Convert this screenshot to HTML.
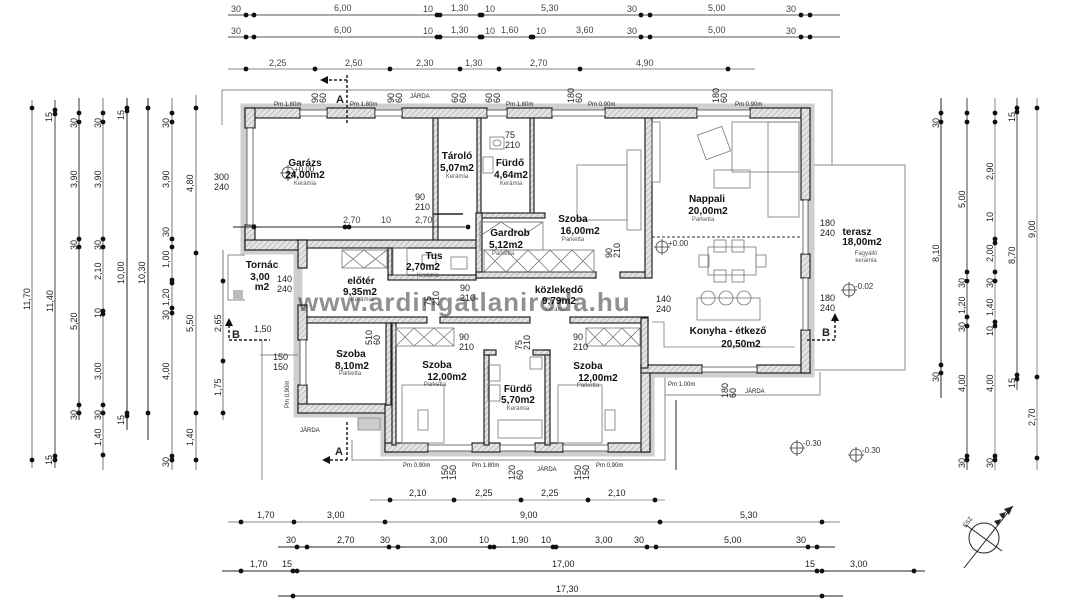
<!DOCTYPE html>
<html><head><meta charset="utf-8"><style>
html,body{margin:0;padding:0;background:#fff}
svg{display:block}
text{font-family:"Liberation Sans",sans-serif;fill:#222}
.d{font-size:9px;fill:#444}
.r{font-size:10px;font-weight:bold;fill:#111}
.s{font-size:6px;fill:#555}
.m{font-size:8px;fill:#333}
</style></head><body>
<svg width="1067" height="600" viewBox="0 0 1067 600" xmlns="http://www.w3.org/2000/svg">
<defs>
<pattern id="h" width="4" height="4" patternUnits="userSpaceOnUse" patternTransform="rotate(45)">
<rect width="4" height="4" fill="#e4e4e4"/><line x1="0" y1="0" x2="0" y2="4" stroke="#888" stroke-width="0.8"/>
</pattern>
</defs>

<!-- TOP DIMENSIONS -->
<g stroke="#555" stroke-width="1">
<line x1="228" y1="15" x2="840" y2="15"/>
<line x1="228" y1="37" x2="840" y2="37"/>
<line x1="228" y1="69" x2="755" y2="69" stroke="#888"/>
</g>
<g fill="#111">
<circle cx="246" cy="15" r="2.4"/><circle cx="254" cy="15" r="2.4"/><circle cx="437" cy="15" r="2.4"/><circle cx="440" cy="15" r="2.4"/><circle cx="480" cy="15" r="2.4"/><circle cx="482" cy="15" r="2.4"/><circle cx="641" cy="15" r="2.4"/><circle cx="650" cy="15" r="2.4"/><circle cx="801" cy="15" r="2.4"/><circle cx="810" cy="15" r="2.4"/>
<circle cx="246" cy="37" r="2.4"/><circle cx="254" cy="37" r="2.4"/><circle cx="437" cy="37" r="2.4"/><circle cx="440" cy="37" r="2.4"/><circle cx="480" cy="37" r="2.4"/><circle cx="482" cy="37" r="2.4"/><circle cx="531" cy="37" r="2.4"/><circle cx="533" cy="37" r="2.4"/><circle cx="641" cy="37" r="2.4"/><circle cx="650" cy="37" r="2.4"/><circle cx="801" cy="37" r="2.4"/><circle cx="810" cy="37" r="2.4"/>
<circle cx="246" cy="69" r="2.4"/><circle cx="315" cy="69" r="2.4"/><circle cx="390" cy="69" r="2.4"/><circle cx="460" cy="69" r="2.4"/><circle cx="499" cy="69" r="2.4"/><circle cx="580" cy="69" r="2.4"/><circle cx="728" cy="69" r="2.4"/>
</g>
<g class="d">
<text x="231" y="12" class="d">30</text><text x="334" y="11" class="d">6,00</text><text x="423" y="12" class="d">10</text><text x="451" y="11" class="d">1,30</text><text x="485" y="12" class="d">10</text><text x="541" y="11" class="d">5,30</text><text x="627" y="12" class="d">30</text><text x="708" y="11" class="d">5,00</text><text x="786" y="12" class="d">30</text>
<text x="231" y="34" class="d">30</text><text x="334" y="33" class="d">6,00</text><text x="423" y="34" class="d">10</text><text x="451" y="33" class="d">1,30</text><text x="485" y="34" class="d">10</text><text x="501" y="33" class="d">1,60</text><text x="536" y="34" class="d">10</text><text x="576" y="33" class="d">3,60</text><text x="627" y="34" class="d">30</text><text x="708" y="33" class="d">5,00</text><text x="786" y="34" class="d">30</text>
<text x="269" y="66" class="d">2,25</text><text x="345" y="66" class="d">2,50</text><text x="416" y="66" class="d">2,30</text><text x="465" y="66" class="d">1,30</text><text x="530" y="66" class="d">2,70</text><text x="636" y="66" class="d">4,90</text>
</g>

<!-- LEFT DIMENSIONS -->
<g stroke="#777" stroke-width="1">
<line x1="32" y1="100" x2="32" y2="468"/><line x1="55" y1="100" x2="55" y2="468" stroke="#444"/><line x1="79" y1="98" x2="79" y2="420" stroke="#333"/><line x1="103" y1="98" x2="103" y2="470"/><line x1="127" y1="98" x2="127" y2="430" stroke="#222"/><line x1="148" y1="98" x2="148" y2="440" stroke="#222"/><line x1="172" y1="98" x2="172" y2="470"/><line x1="196" y1="95" x2="196" y2="470"/><line x1="223" y1="250" x2="223" y2="420"/>
</g>
<g fill="#111">
<circle cx="32" cy="108" r="2.4"/><circle cx="32" cy="460" r="2.4"/>
<circle cx="55" cy="110" r="2.4"/><circle cx="55" cy="114" r="2.4"/><circle cx="55" cy="456" r="2.4"/><circle cx="55" cy="460" r="2.4"/>
<circle cx="79" cy="113" r="2.4"/><circle cx="79" cy="122" r="2.4"/><circle cx="79" cy="239" r="2.4"/><circle cx="79" cy="247" r="2.4"/><circle cx="79" cy="405" r="2.4"/><circle cx="79" cy="413" r="2.4"/>
<circle cx="103" cy="113" r="2.4"/><circle cx="103" cy="122" r="2.4"/><circle cx="103" cy="239" r="2.4"/><circle cx="103" cy="247" r="2.4"/><circle cx="103" cy="311" r="2.4"/><circle cx="103" cy="314" r="2.4"/><circle cx="103" cy="405" r="2.4"/><circle cx="103" cy="413" r="2.4"/><circle cx="103" cy="455" r="2.4"/>
<circle cx="127" cy="108" r="2.4"/><circle cx="127" cy="111" r="2.4"/><circle cx="127" cy="413" r="2.4"/><circle cx="127" cy="416" r="2.4"/>
<circle cx="148" cy="108" r="2.4"/><circle cx="148" cy="413" r="2.4"/>
<circle cx="172" cy="113" r="2.4"/><circle cx="172" cy="122" r="2.4"/><circle cx="172" cy="239" r="2.4"/><circle cx="172" cy="247" r="2.4"/><circle cx="172" cy="280" r="2.4"/><circle cx="172" cy="283" r="2.4"/><circle cx="172" cy="308" r="2.4"/><circle cx="172" cy="313" r="2.4"/><circle cx="172" cy="456" r="2.4"/><circle cx="172" cy="460" r="2.4"/>
<circle cx="196" cy="108" r="2.4"/><circle cx="196" cy="253" r="2.4"/><circle cx="196" cy="413" r="2.4"/><circle cx="196" cy="460" r="2.4"/>
<circle cx="223" cy="281" r="2.4"/><circle cx="223" cy="361" r="2.4"/><circle cx="223" cy="413" r="2.4"/>
</g>
<g class="d">
<text transform="translate(30,310) rotate(-90)">11,70</text>
<text transform="translate(53,312) rotate(-90)">11,40</text><text transform="translate(52,122) rotate(-90)">15</text><text transform="translate(52,465) rotate(-90)">15</text>
<text transform="translate(77,128) rotate(-90)">30</text><text transform="translate(77,188) rotate(-90)">3,90</text><text transform="translate(77,250) rotate(-90)">30</text><text transform="translate(77,330) rotate(-90)">5,20</text><text transform="translate(77,420) rotate(-90)">30</text>
<text transform="translate(101,128) rotate(-90)">30</text><text transform="translate(101,188) rotate(-90)">3,90</text><text transform="translate(101,250) rotate(-90)">30</text><text transform="translate(101,280) rotate(-90)">2,10</text><text transform="translate(101,318) rotate(-90)">10</text><text transform="translate(101,380) rotate(-90)">3,00</text><text transform="translate(101,420) rotate(-90)">30</text><text transform="translate(101,446) rotate(-90)">1,40</text>
<text transform="translate(124,120) rotate(-90)">15</text><text transform="translate(124,284) rotate(-90)">10,00</text><text transform="translate(124,425) rotate(-90)">15</text>
<text transform="translate(145,284) rotate(-90)">10,30</text>
<text transform="translate(169,128) rotate(-90)">30</text><text transform="translate(169,188) rotate(-90)">3,90</text><text transform="translate(169,237) rotate(-90)">30</text><text transform="translate(169,268) rotate(-90)">1,00</text><text transform="translate(169,306) rotate(-90)">1,20</text><text transform="translate(169,320) rotate(-90)">30</text><text transform="translate(169,380) rotate(-90)">4,00</text><text transform="translate(169,467) rotate(-90)">30</text>
<text transform="translate(193,192) rotate(-90)">4,80</text><text transform="translate(193,332) rotate(-90)">5,50</text><text transform="translate(193,446) rotate(-90)">1,40</text>
<text transform="translate(221,332) rotate(-90)">2,65</text><text transform="translate(221,396) rotate(-90)">1,75</text>
</g>

<!-- RIGHT DIMENSIONS -->
<g stroke="#555" stroke-width="1">
<line x1="941" y1="98" x2="941" y2="398" stroke="#222"/><line x1="967" y1="98" x2="967" y2="470" stroke="#444"/><line x1="995" y1="98" x2="995" y2="470" stroke="#888"/><line x1="1017" y1="98" x2="1017" y2="390" stroke="#444"/><line x1="1037" y1="98" x2="1037" y2="470" stroke="#888"/>
</g>
<g fill="#111">
<circle cx="941" cy="113" r="2.4"/><circle cx="941" cy="122" r="2.4"/><circle cx="941" cy="365" r="2.4"/><circle cx="941" cy="373" r="2.4"/>
<circle cx="967" cy="113" r="2.4"/><circle cx="967" cy="122" r="2.4"/><circle cx="967" cy="272" r="2.4"/><circle cx="967" cy="281" r="2.4"/><circle cx="967" cy="317" r="2.4"/><circle cx="967" cy="326" r="2.4"/><circle cx="967" cy="456" r="2.4"/><circle cx="967" cy="460" r="2.4"/>
<circle cx="995" cy="113" r="2.4"/><circle cx="995" cy="122" r="2.4"/><circle cx="995" cy="239" r="2.4"/><circle cx="995" cy="243" r="2.4"/><circle cx="995" cy="272" r="2.4"/><circle cx="995" cy="281" r="2.4"/><circle cx="995" cy="322" r="2.4"/><circle cx="995" cy="326" r="2.4"/><circle cx="995" cy="456" r="2.4"/><circle cx="995" cy="460" r="2.4"/>
<circle cx="1017" cy="108" r="2.4"/><circle cx="1017" cy="112" r="2.4"/><circle cx="1017" cy="375" r="2.4"/><circle cx="1017" cy="379" r="2.4"/>
<circle cx="1037" cy="108" r="2.4"/><circle cx="1037" cy="377" r="2.4"/><circle cx="1037" cy="458" r="2.4"/>
</g>
<g class="d">
<text transform="translate(939,128) rotate(-90)">30</text><text transform="translate(939,262) rotate(-90)">8,10</text><text transform="translate(939,382) rotate(-90)">30</text>
<text transform="translate(965,208) rotate(-90)">5,00</text><text transform="translate(965,288) rotate(-90)">30</text><text transform="translate(965,314) rotate(-90)">1,20</text><text transform="translate(965,332) rotate(-90)">30</text><text transform="translate(965,392) rotate(-90)">4,00</text><text transform="translate(965,468) rotate(-90)">30</text>
<text transform="translate(993,180) rotate(-90)">2,90</text><text transform="translate(993,222) rotate(-90)">10</text><text transform="translate(993,262) rotate(-90)">2,00</text><text transform="translate(993,288) rotate(-90)">30</text><text transform="translate(993,316) rotate(-90)">1,40</text><text transform="translate(993,336) rotate(-90)">10</text><text transform="translate(993,392) rotate(-90)">4,00</text><text transform="translate(993,468) rotate(-90)">30</text>
<text transform="translate(1015,122) rotate(-90)">15</text><text transform="translate(1015,264) rotate(-90)">8,70</text><text transform="translate(1015,388) rotate(-90)">15</text>
<text transform="translate(1035,238) rotate(-90)">9,00</text><text transform="translate(1035,426) rotate(-90)">2,70</text>
</g>

<!-- BOTTOM DIMENSIONS -->
<g stroke="#555" stroke-width="1">
<line x1="370" y1="500" x2="665" y2="500" stroke="#999"/>
<line x1="228" y1="522" x2="840" y2="522" stroke="#888"/>
<line x1="278" y1="547" x2="835" y2="547" stroke="#222"/>
<line x1="222" y1="571" x2="925" y2="571" stroke="#222"/>
<line x1="278" y1="596" x2="843" y2="596" stroke="#222"/>
</g>
<g fill="#111">
<circle cx="390" cy="500" r="2.4"/><circle cx="454" cy="500" r="2.4"/><circle cx="521" cy="500" r="2.4"/><circle cx="588" cy="500" r="2.4"/><circle cx="655" cy="500" r="2.4"/>
<circle cx="241" cy="522" r="2.4"/><circle cx="294" cy="522" r="2.4"/><circle cx="385" cy="522" r="2.4"/><circle cx="660" cy="522" r="2.4"/><circle cx="822" cy="522" r="2.4"/>
<circle cx="297" cy="547" r="2.4"/><circle cx="307" cy="547" r="2.4"/><circle cx="389" cy="547" r="2.4"/><circle cx="398" cy="547" r="2.4"/><circle cx="490" cy="547" r="2.4"/><circle cx="494" cy="547" r="2.4"/><circle cx="553" cy="547" r="2.4"/><circle cx="556" cy="547" r="2.4"/><circle cx="647" cy="547" r="2.4"/><circle cx="656" cy="547" r="2.4"/><circle cx="808" cy="547" r="2.4"/><circle cx="817" cy="547" r="2.4"/>
<circle cx="241" cy="571" r="2.4"/><circle cx="293" cy="571" r="2.4"/><circle cx="297" cy="571" r="2.4"/><circle cx="817" cy="571" r="2.4"/><circle cx="822" cy="571" r="2.4"/><circle cx="914" cy="571" r="2.4"/>
<circle cx="293" cy="596" r="2.4"/><circle cx="822" cy="596" r="2.4"/>
</g>
<g class="d">
<text x="409" y="496">2,10</text><text x="475" y="496">2,25</text><text x="541" y="496">2,25</text><text x="608" y="496">2,10</text>
<text x="257" y="518">1,70</text><text x="327" y="518">3,00</text><text x="520" y="518">9,00</text><text x="740" y="518">5,30</text>
<text x="286" y="543">30</text><text x="337" y="543">2,70</text><text x="380" y="543">30</text><text x="430" y="543">3,00</text><text x="479" y="543">10</text><text x="511" y="543">1,90</text><text x="541" y="543">10</text><text x="595" y="543">3,00</text><text x="634" y="543">30</text><text x="724" y="543">5,00</text><text x="796" y="543">30</text>
<text x="250" y="567">1,70</text><text x="282" y="567">15</text><text x="552" y="567">17,00</text><text x="805" y="567">15</text><text x="850" y="567">3,00</text>
<text x="556" y="592">17,30</text>
</g>

<!-- JARDA / outline -->
<g fill="none" stroke="#888" stroke-width="1">
<polyline points="222,125 222,90 832,90 832,165"/>
<polyline points="245,255 228,255 228,300 245,300"/>
<polyline points="262,340 262,480"/>
<polyline points="352,440 352,460 665,460 665,365"/>
<polyline points="665,395 820,395 820,372"/>
<rect x="810" y="165" width="95" height="205"/>
</g>
<line x1="676" y1="400" x2="676" y2="470" stroke="#222"/>
<rect x="233" y="290" width="10" height="9" fill="#bbb"/>
<rect x="358" y="418" width="22" height="12" fill="#ccc" stroke="#999"/>

<!-- outer gray band -->
<polygon points="245,108 810,108 810,373 650,373 650,452 385,452 385,413 298,413 298,250 245,250" fill="none" stroke="#cfcfcf" stroke-width="9"/>

<!-- WALLS -->
<g fill="url(#h)" stroke="#222" stroke-width="1.2">
<rect x="245" y="108" width="55" height="10"/><rect x="327" y="108" width="48" height="10"/><rect x="402" y="108" width="85" height="10"/><rect x="507" y="108" width="45" height="10"/><rect x="605" y="108" width="92" height="10"/><rect x="750" y="108" width="60" height="10"/>
<rect x="245" y="108" width="10" height="20"/><rect x="245" y="225" width="10" height="25"/><rect x="245" y="240" width="62" height="10"/>
<rect x="298" y="240" width="9" height="28"/><rect x="298" y="305" width="9" height="35"/><rect x="298" y="385" width="9" height="28"/>
<rect x="298" y="404" width="95" height="9"/>
<rect x="385" y="404" width="9" height="48"/>
<rect x="385" y="443" width="43" height="9"/><rect x="472" y="443" width="28" height="9"/><rect x="535" y="443" width="28" height="9"/><rect x="608" y="443" width="42" height="9"/>
<rect x="641" y="365" width="9" height="87"/>
<rect x="641" y="365" width="61" height="8"/><rect x="757" y="365" width="53" height="8"/>
<rect x="801" y="108" width="9" height="92"/><rect x="801" y="254" width="9" height="24"/><rect x="801" y="330" width="9" height="43"/>
<rect x="433" y="118" width="5" height="125"/><rect x="477" y="118" width="4" height="100"/><rect x="530" y="118" width="4" height="97"/>
<rect x="307" y="240" width="171" height="8"/>
<rect x="477" y="213" width="68" height="5"/><rect x="476" y="213" width="6" height="65"/>
<rect x="476" y="272" width="120" height="6"/><rect x="620" y="272" width="31" height="6"/>
<rect x="645" y="118" width="7" height="160"/>
<rect x="388" y="248" width="4" height="30"/><rect x="388" y="275" width="88" height="5"/>
<rect x="307" y="317" width="120" height="6"/><rect x="440" y="317" width="90" height="6"/><rect x="570" y="317" width="78" height="6"/>
<rect x="386" y="323" width="5" height="82"/>
<rect x="392" y="323" width="4" height="122"/>
<rect x="484" y="350" width="5" height="95"/><rect x="545" y="350" width="5" height="95"/><rect x="484" y="350" width="12" height="5"/><rect x="533" y="350" width="17" height="5"/>
<rect x="641" y="318" width="7" height="50"/>
</g>
<g fill="#fff" stroke="#333" stroke-width="0.7">
<rect x="300" y="110" width="27" height="6"/><rect x="375" y="110" width="27" height="6"/><rect x="487" y="110" width="20" height="6"/><rect x="552" y="110" width="53" height="6"/><rect x="697" y="110" width="53" height="6"/>
<rect x="247" y="128" width="6" height="97"/><rect x="300" y="340" width="6" height="45"/>
<rect x="428" y="445" width="44" height="6"/><rect x="500" y="445" width="35" height="6"/><rect x="563" y="445" width="45" height="6"/>
<rect x="702" y="367" width="55" height="5"/><rect x="803" y="200" width="5" height="54"/><rect x="803" y="278" width="5" height="52"/>
</g>

<g fill="none" stroke="#777" stroke-width="0.8">
<rect x="480" y="222" width="63" height="28"/><rect x="484" y="250" width="110" height="22"/>
<path d="M484 250 l22 22 M506 250 l-22 22 M506 250 l22 22 M528 250 l-22 22 M528 250 l22 22 M550 250 l-22 22 M550 250 l22 22 M572 250 l-22 22 M572 250 l22 22 M594 250 l-22 22"/>
<path d="M482 222 h60 M480 236 l21 -14 l21 14 l21 -14"/>
<rect x="342" y="250" width="45" height="18"/><path d="M342 250 l22 18 M364 250 l-22 18 M364 250 l23 18 M387 250 l-23 18"/>
<rect x="396" y="328" width="58" height="18"/><path d="M396 328 l18 18 M414 328 l-18 18 M414 328 l20 18 M434 328 l-20 18 M434 328 l20 18 M454 328 l-20 18"/>
<rect x="586" y="328" width="54" height="18"/><path d="M586 328 l18 18 M604 328 l-18 18 M604 328 l18 18 M622 328 l-18 18 M622 328 l18 18 M640 328 l-18 18"/>
<rect x="577" y="165" width="50" height="55"/><rect x="627" y="150" width="14" height="80"/>
<rect x="701" y="130" width="26" height="26" transform="rotate(-20 714 143)"/><rect x="732" y="122" width="67" height="50"/><rect x="768" y="122" width="31" height="95"/><rect x="714" y="170" width="36" height="18"/>
<rect x="708" y="247" width="48" height="28"/><rect x="714" y="240" width="12" height="12"/><rect x="732" y="240" width="12" height="12"/><rect x="714" y="270" width="12" height="12"/><rect x="732" y="270" width="12" height="12"/><rect x="699" y="255" width="10" height="12"/><rect x="756" y="255" width="10" height="12"/>
<rect x="697" y="298" width="63" height="22"/><circle cx="708" cy="298" r="7"/><circle cx="726" cy="298" r="7"/><circle cx="744" cy="298" r="7"/>
<polyline points="652,322 664,322 664,347 795,347"/>
<rect x="652" y="122" width="8" height="60"/>
<rect x="490" y="137" width="14" height="12"/><ellipse cx="497" cy="143" rx="4" ry="3"/><rect x="483" y="157" width="10" height="16"/>
<rect x="488" y="365" width="12" height="16"/><rect x="488" y="385" width="12" height="16"/><rect x="498" y="420" width="44" height="18"/><rect x="530" y="357" width="12" height="12"/>
<rect x="418" y="410" width="10" height="20"/><rect x="605" y="410" width="10" height="20"/>
<rect x="402" y="385" width="42" height="58"/><rect x="558" y="385" width="44" height="58"/>
<rect x="422" y="255" width="14" height="10"/><rect x="451" y="257" width="16" height="12"/><rect x="393" y="248" width="14" height="27"/>
</g>
<g stroke="#222" stroke-width="1.6"><line x1="433" y1="214" x2="463" y2="214"/><line x1="298" y1="355" x2="260" y2="355" stroke-width="0.8" stroke="#666"/></g>
<line x1="652" y1="237" x2="800" y2="237" stroke="#333" stroke-dasharray="3,2"/>
<line x1="233" y1="227" x2="465" y2="227" stroke="#222"/>
<g fill="#111"><circle cx="254" cy="227" r="2.4"/><circle cx="345" cy="227" r="2.4"/><circle cx="349" cy="227" r="2.4"/><circle cx="468" cy="227" r="2.4"/></g>
<text x="343" y="223" class="d">2,70</text><text x="381" y="223" class="d">10</text><text x="415" y="223" class="d">2,70</text>

<g fill="none" stroke="#333" stroke-width="0.8">
<circle cx="288" cy="173" r="6"/><path d="M280 173h16M288 165v16"/>
<circle cx="662" cy="247" r="6"/><path d="M654 247h16M662 239v16"/>
<circle cx="849" cy="290" r="6"/><path d="M841 290h16M849 282v16"/>
<circle cx="797" cy="448" r="6"/><path d="M789 448h16M797 440v16"/>
<circle cx="856" cy="455" r="6"/><path d="M848 455h16M856 447v16"/>
</g>
<text x="294" y="172" class="m">+0.00</text><text x="668" y="246" class="m">+0.00</text><text x="855" y="289" class="m">-0.02</text><text x="803" y="446" class="m">-0.30</text><text x="862" y="453" class="m">-0.30</text>

<g stroke="#222" stroke-width="1.5" stroke-dasharray="3,2" fill="none">
<line x1="347" y1="75" x2="347" y2="125"/><line x1="229" y1="340" x2="270" y2="340"/><line x1="807" y1="340" x2="835" y2="340"/><line x1="347" y1="422" x2="347" y2="460"/><line x1="330" y1="460" x2="347" y2="460"/><line x1="329" y1="80" x2="347" y2="80"/><line x1="229" y1="325" x2="229" y2="340"/><line x1="835" y1="320" x2="835" y2="340"/>
</g>
<g fill="#111"><path d="M320 80l8 -4v8z"/><path d="M229 318l-4 8h8z"/><path d="M835 313l-4 8h8z"/><path d="M322 460l8 -4v8z"/></g>
<g font-weight="bold" font-size="11"><text x="336" y="103">A</text><text x="232" y="338">B</text><text x="822" y="336">B</text><text x="335" y="455">A</text></g>

<g class="s" font-size="7">
<text x="274" y="106">Pm 1.80m</text><text x="350" y="106">Pm 1.80m</text><text x="410" y="98">JÁRDA</text><text x="506" y="106">Pm 1.80m</text><text x="588" y="106">Pm 0.90m</text><text x="735" y="106">Pm 0.90m</text>
<text x="668" y="386">Pm 1.00m</text><text x="745" y="393">JÁRDA</text><text x="403" y="467">Pm 0,90m</text><text x="472" y="467">Pm 1.80m</text><text x="537" y="471">JÁRDA</text><text x="596" y="467">Pm 0,90m</text><text x="300" y="432">JÁRDA</text>
<text transform="translate(289,408) rotate(-90)">Pm 0,90m</text>
</g>
<g class="d" font-size="8">
<text transform="translate(318,103) rotate(-90)">90</text><text transform="translate(326,103) rotate(-90)">60</text>
<text transform="translate(394,103) rotate(-90)">90</text><text transform="translate(402,103) rotate(-90)">60</text>
<text transform="translate(458,103) rotate(-90)">60</text><text transform="translate(466,103) rotate(-90)">60</text>
<text transform="translate(492,103) rotate(-90)">60</text><text transform="translate(500,103) rotate(-90)">60</text>
<text transform="translate(574,103) rotate(-90)">180</text><text transform="translate(582,103) rotate(-90)">60</text>
<text transform="translate(719,103) rotate(-90)">180</text><text transform="translate(727,103) rotate(-90)">60</text>
<text transform="translate(728,398) rotate(-90)">180</text><text transform="translate(736,398) rotate(-90)">60</text>
<text transform="translate(448,480) rotate(-90)">150</text><text transform="translate(456,480) rotate(-90)">150</text>
<text transform="translate(515,480) rotate(-90)">120</text><text transform="translate(523,480) rotate(-90)">60</text>
<text transform="translate(581,480) rotate(-90)">150</text><text transform="translate(589,480) rotate(-90)">150</text>
<text x="214" y="180">300</text><text x="214" y="190">240</text>
<text x="415" y="200">90</text><text x="415" y="210">210</text>
<text x="505" y="138">75</text><text x="505" y="148">210</text>
<text x="820" y="226">180</text><text x="820" y="236">240</text>
<text x="820" y="301">180</text><text x="820" y="311">240</text>
<text x="656" y="302">140</text><text x="656" y="312">240</text>
<text x="277" y="282">140</text><text x="277" y="292">240</text>
<text x="273" y="360">150</text><text x="273" y="370">150</text>
<text x="254" y="332">1,50</text>
<text x="459" y="340">90</text><text x="459" y="350">210</text>
<text x="460" y="291">90</text><text x="460" y="301">210</text>
<text x="573" y="340">90</text><text x="573" y="350">210</text>
<text transform="translate(372,345) rotate(-90)">510</text><text transform="translate(380,345) rotate(-90)">60</text>
<text transform="translate(522,350) rotate(-90)">75</text><text transform="translate(530,350) rotate(-90)">210</text>
<text transform="translate(612,258) rotate(-90)">90</text><text transform="translate(620,258) rotate(-90)">210</text>
<text transform="translate(431,306) rotate(-90)">75</text><text transform="translate(439,306) rotate(-90)">210</text>
</g>

<text x="298" y="311" font-size="26" font-weight="bold" fill="#9aa6bf" fill-opacity="0.5" style="font-family:'Liberation Sans',sans-serif;letter-spacing:1px">www.ardingatlaniroda.hu</text>

<g text-anchor="middle">
<text x="305" y="166" class="r">Garázs</text><text x="305" y="178" class="r">24,00m2</text><text x="305" y="185" class="s">Kerámia</text>
<text x="457" y="159" class="r">Tároló</text><text x="457" y="171" class="r">5,07m2</text><text x="457" y="178" class="s">Kerámia</text>
<text x="510" y="166" class="r">Fürdő</text><text x="511" y="178" class="r">4,64m2</text><text x="511" y="185" class="s">Kerámia</text>
<text x="573" y="222" class="r">Szoba</text><text x="580" y="234" class="r">16,00m2</text><text x="573" y="241" class="s">Parketta</text>
<text x="510" y="236" class="r">Gardrob</text><text x="506" y="248" class="r">5,12m2</text><text x="503" y="255" class="s">Parketta</text>
<text x="707" y="202" class="r">Nappali</text><text x="708" y="214" class="r">20,00m2</text><text x="703" y="221" class="s">Parketta</text>
<text x="857" y="235" class="r">terasz</text><text x="862" y="245" class="r">18,00m2</text><text x="866" y="255" class="s">Fagyálló</text><text x="866" y="262" class="s">kerámia</text>
<text x="728" y="334" class="r">Konyha - étkező</text><text x="741" y="347" class="r">20,50m2</text>
<text x="262" y="268" class="r">Tornác</text><text x="260" y="280" class="r">3,00</text><text x="262" y="290" class="r">m2</text>
<text x="361" y="284" class="r">előtér</text><text x="360" y="295" class="r">9,35m2</text><text x="362" y="301" class="s">Kerámia</text>
<text x="434" y="259" class="r">Tus</text><text x="423" y="270" class="r">2,70m2</text><text x="428" y="277" class="s">Kerámia</text>
<text x="559" y="293" class="r">közlekedő</text><text x="559" y="304" class="r">9,79m2</text><text x="556" y="311" class="s">Kerámia</text>
<text x="351" y="357" class="r">Szoba</text><text x="352" y="369" class="r">8,10m2</text><text x="350" y="375" class="s">Parketta</text>
<text x="437" y="368" class="r">Szoba</text><text x="447" y="380" class="r">12,00m2</text><text x="435" y="386" class="s">Parketta</text>
<text x="518" y="392" class="r">Fürdő</text><text x="518" y="403" class="r">5,70m2</text><text x="518" y="410" class="s">Kerámia</text>
<text x="588" y="369" class="r">Szoba</text><text x="598" y="381" class="r">12,00m2</text><text x="588" y="387" class="s">Parketta</text>
</g>

<g stroke="#222" fill="none" stroke-width="1">
<circle cx="984" cy="538" r="15"/>
<line x1="964" y1="568" x2="1013" y2="506"/>
<line x1="966" y1="525" x2="1002" y2="551"/>
</g>
<g fill="#222"><path d="M1013 506l-9 3 5 6z"/><path d="M1006 512l-7 2 4 5z"/><path d="M1001 519l-7 2 4 5z"/></g>
<text x="966" y="528" font-size="6" transform="rotate(-55 966 528)">ÉSZ</text>
</svg>
</body></html>
